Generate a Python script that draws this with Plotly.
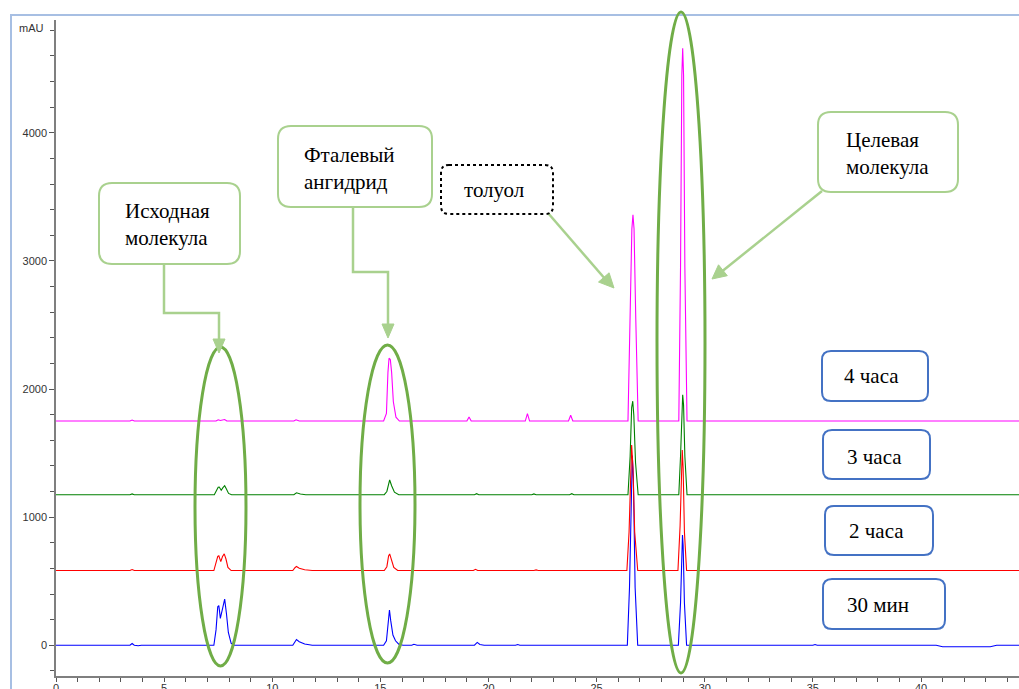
import plotly.graph_objects as go

# ---------------- data ----------------
# retention time, min
t_30min = [0, 3.42, 3.52, 3.62, 3.8, 3.95, 7.3, 7.4, 7.48, 7.53, 7.6, 7.68, 7.76, 7.8, 7.88, 7.97, 8.1, 8.25,
           10.95, 11.05, 11.12, 11.25, 11.5, 11.85, 15.15, 15.28, 15.35, 15.42, 15.48, 15.58, 15.7, 15.85, 16.05,
           16.45, 16.55, 16.7, 19.35, 19.48, 19.6, 19.8, 21.25, 21.35, 21.45,
           26.42, 26.52, 26.6, 26.65, 26.7, 26.78, 26.9, 28.78, 28.88, 28.94, 28.97, 29.0, 29.06, 29.16,
           35.0, 35.1, 35.2, 40.7, 41.0, 43.2, 43.5, 45]
v_30min = [0, 0, 14, 0, -4, 0, 0, 120, 300, 310, 210, 280, 355, 360, 250, 100, 15, 0,
           0, 30, 45, 28, 10, 0, 0, 35, 190, 275, 190, 80, 35, 8, 0,
           0, 8, 0, 0, 22, 6, 0, 0, 6, 0,
           0, 450, 1300, 1480, 1300, 450, 0, 0, 330, 780, 860, 780, 330, 0,
           0, 6, 0, 0, -12, -12, 0, 0]

t_2h = [0, 3.42, 3.52, 3.62, 7.3, 7.4, 7.48, 7.53, 7.62, 7.7, 7.78, 7.86, 7.95, 8.1,
        10.95, 11.05, 11.12, 11.25, 11.5, 11.85, 15.18, 15.3, 15.38, 15.43, 15.5, 15.62, 15.8,
        19.3, 19.4, 19.5, 22.1, 22.2, 22.3, 26.4, 26.5, 26.58, 26.62, 26.68, 26.76, 26.9,
        28.76, 28.86, 28.92, 28.96, 29.0, 29.06, 29.16, 45]
v_2h = [0, 0, 8, 0, 0, 55, 110, 115, 70, 110, 130, 90, 25, 0,
        0, 22, 32, 18, 6, 0, 0, 30, 115, 130, 90, 25, 0,
        0, 10, 0, 0, 5, 0, 0, 300, 900, 980, 800, 300, 0,
        0, 350, 850, 940, 800, 300, 0, 0]

t_3h = [0, 3.42, 3.52, 3.62, 7.32, 7.42, 7.5, 7.55, 7.64, 7.72, 7.8, 7.88, 7.98, 8.12,
        11.0, 11.12, 11.3, 11.55, 15.18, 15.3, 15.38, 15.43, 15.52, 15.65, 15.85,
        19.35, 19.45, 19.55, 22.0, 22.1, 22.2, 23.75, 23.85, 23.95,
        26.45, 26.55, 26.62, 26.67, 26.72, 26.8, 26.92, 28.8, 28.88, 28.94, 28.98, 29.02, 29.08, 29.18, 45]
v_3h = [0, 0, 6, 0, 0, 30, 58, 60, 35, 55, 70, 45, 10, 0,
        0, 15, 5, 0, 0, 25, 100, 115, 70, 20, 0,
        0, 8, 0, 0, 6, 0, 0, 8, 0,
        0, 300, 680, 730, 620, 250, 0, 0, 300, 720, 780, 700, 300, 0, 0]

t_4h = [0, 3.42, 3.52, 3.62, 7.4, 7.5, 7.6, 7.7, 7.8, 7.9, 11.0, 11.1, 11.25,
        15.15, 15.28, 15.35, 15.4, 15.46, 15.52, 15.6, 15.72, 15.88,
        19.0, 19.1, 19.2, 21.7, 21.8, 21.9, 23.7, 23.8, 23.9,
        26.45, 26.55, 26.63, 26.68, 26.73, 26.81, 26.92, 28.8, 28.88, 28.94, 28.98, 29.02, 29.08, 29.18, 45]
v_4h = [0, 0, 8, 0, 0, 10, 4, 8, 12, 0, 0, 10, 0,
        0, 60, 380, 490, 480, 380, 150, 30, 0,
        0, 32, 0, 0, 58, 0, 0, 45, 0,
        0, 800, 1500, 1610, 1500, 800, 0, 0, 1200, 2700, 2910, 2700, 1200, 0, 0]

# overlay offsets of the stacked chromatograms, mAU
offsets = [0, 583, 1175, 1750]
series_names = ["30 мин", "2 часа", "3 часа", "4 часа"]
series_t = [t_30min, t_2h, t_3h, t_4h]
series_v = [v_30min, v_2h, v_3h, v_4h]
series_colors = ["#0000FF", "#FF0000", "#008000", "#FF00FF"]

x_ticks = [0, 5, 10, 15, 20, 25, 30, 35, 40]
y_ticks = [0, 1000, 2000, 3000, 4000]

# ---------------- figure ----------------
W, H = 1019, 689
L, R, T, B = 56, 0, 20, 13
PW, PH = W - L - R, H - T - B


def px(x):
    return (x - L) / PW


def py(y):
    return (H - B - y) / PH


fig = go.Figure()
for name, tt, vv, off, col in zip(series_names, series_t, series_v, offsets, series_colors):
    fig.add_trace(go.Scatter(x=tt, y=[v + off for v in vv], mode="lines", name=name,
                             line=dict(color=col, width=1.1), hoverinfo="skip"))

shapes = []


def rrect(x0, y0, x1, y1, r, color, width, dash="solid"):
    p = (f"M {px(x0 + r)},{py(y0)} L {px(x1 - r)},{py(y0)} Q {px(x1)},{py(y0)} {px(x1)},{py(y0 + r)} "
         f"L {px(x1)},{py(y1 - r)} Q {px(x1)},{py(y1)} {px(x1 - r)},{py(y1)} "
         f"L {px(x0 + r)},{py(y1)} Q {px(x0)},{py(y1)} {px(x0)},{py(y1 - r)} "
         f"L {px(x0)},{py(y0 + r)} Q {px(x0)},{py(y0)} {px(x0 + r)},{py(y0)} Z")
    shapes.append(dict(type="path", xref="paper", yref="paper", path=p,
                       line=dict(color=color, width=width, dash=dash), fillcolor="rgba(255,255,255,1)",
                       layer="above"))


def polyline(pts, color, width):
    p = "M " + " L ".join(f"{px(a)},{py(b)}" for a, b in pts)
    shapes.append(dict(type="path", xref="paper", yref="paper", path=p,
                       line=dict(color=color, width=width), layer="above"))


def tri(pts, color):
    p = "M " + " L ".join(f"{px(a)},{py(b)}" for a, b in pts) + " Z"
    shapes.append(dict(type="path", xref="paper", yref="paper", path=p,
                       line=dict(color=color, width=1), fillcolor=color, layer="above"))


def ellipse(x0, y0, x1, y1, color, width):
    shapes.append(dict(type="circle", xref="paper", yref="paper", x0=px(x0), x1=px(x1),
                       y0=py(y1), y1=py(y0), line=dict(color=color, width=width), layer="above"))


# window frame
frame = "#A7BFE3"
shapes.append(dict(type="path", xref="paper", yref="paper",
                   path=f"M {px(11)},{py(700)} L {px(11)},{py(15)} L {px(1030)},{py(15)}",
                   line=dict(color=frame, width=2), layer="above"))

LG = "#A9D18E"
DG = "#70AD47"
BL = "#4472C4"

# ellipses
ellipse(195, 347, 246, 666, DG, 3)
ellipse(360, 345, 415, 663, DG, 3)
ellipse(657, 12, 705, 673, DG, 3)

# connectors
polyline([(164, 264), (164, 313), (219, 313), (219, 342)], LG, 2.5)
tri([(219, 353), (213, 339), (225, 339)], LG)
polyline([(353, 207), (353, 272), (388, 272), (388, 326)], LG, 2.5)
tri([(388, 338), (382, 324), (394, 324)], LG)
polyline([(548, 213), (606, 280)], LG, 2.5)
tri([(614, 288), (598.5, 282.0), (609.1, 272.8)], LG)
polyline([(822, 191), (720, 273)], LG, 2.5)
tri([(712, 279), (718.5, 264.8), (727.3, 275.7)], LG)

# callout boxes
rrect(99, 183, 240, 264, 13, LG, 2)
rrect(278, 126, 432, 207, 13, LG, 2)
rrect(441, 165, 553, 214, 8, "#000000", 2, "dot")
rrect(818, 112, 958, 192, 13, LG, 2)
rrect(822, 351, 928, 401, 9, BL, 2)
rrect(823, 430, 930, 479, 9, BL, 2)
rrect(825, 506, 933, 555, 9, BL, 2)
rrect(823, 579, 945, 629, 9, BL, 2)

annotations = []
SERIF = "Liberation Serif, DejaVu Serif, Times New Roman, serif"


def label(text, x, y, xanchor="center", size=21):
    annotations.append(dict(text=text, x=px(x), y=py(y), xref="paper", yref="paper", showarrow=False,
                            xanchor=xanchor, yanchor="middle", align="left",
                            font=dict(family=SERIF, size=size, color="#000000")))


label("Исходная<br>молекула", 123, 224, "left")
label("Фталевый<br>ангидрид", 302, 168, "left")
label("толуол", 494, 190)
label("Целевая<br>молекула", 887, 153)
label("4 часа", 871, 376)
label("3 часа", 874, 457)
label("2 часа", 876, 531)
label("30 мин", 878, 605)

annotations.append(dict(text="mAU", x=px(46), y=py(28), xref="paper", yref="paper", showarrow=False,
                        xanchor="right", yanchor="middle",
                        font=dict(family="Liberation Sans", size=11, color="#333333")))

fig.update_layout(
    width=W, height=H,
    margin=dict(l=L, r=R, t=T, b=B, autoexpand=False),
    paper_bgcolor="white", plot_bgcolor="white",
    showlegend=False,
    shapes=shapes, annotations=annotations,
    font=dict(family="Liberation Sans", size=11, color="#333333"),
    xaxis=dict(range=[0, (W - L) / 21.625], tickvals=x_ticks, ticks="outside", ticklen=4, tickwidth=1,
               automargin=False, ticklabelstandoff=-3,
               tickcolor="#555555", showline=True, linecolor="#7F7F7F", linewidth=1.5,
               showgrid=False, zeroline=False, minor=dict(dtick=1, ticks="outside", ticklen=4,
                                                           tickcolor="#555555", showgrid=False)),
    yaxis=dict(range=[-240, 4880], tickvals=y_ticks, ticks="outside", ticklen=5, tickwidth=1,
               automargin=False,
               tickcolor="#555555", showline=True, linecolor="#7F7F7F", linewidth=1.5,
               showgrid=False, zeroline=False, minor=dict(dtick=200, tick0=0, ticks="outside", ticklen=4,
                                                           tickcolor="#555555", showgrid=False)),
)

fig.write_html("out.html", config={"displayModeBar": False},
               post_script="document.body.style.margin='0';document.body.style.overflow='hidden';")
